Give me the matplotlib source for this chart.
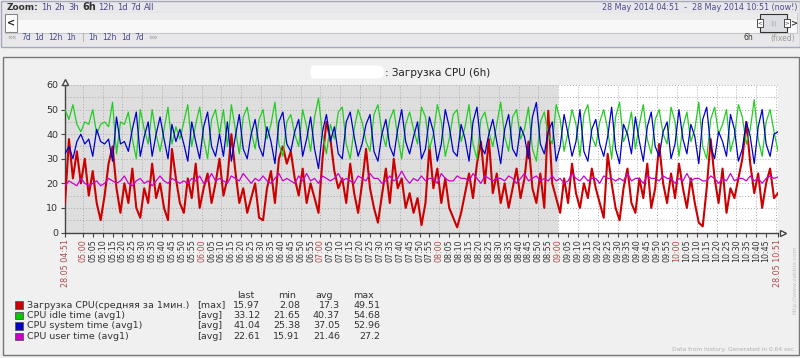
import matplotlib
matplotlib.use('Agg')
import matplotlib.pyplot as plt
import numpy as np
from matplotlib.patches import Rectangle, FancyBboxPatch

# ---------------- data ----------------
step_minutes = 2  # samples every 2 minutes, 04:51 .. 10:51

red_load = [
    12, 38, 22, 33, 20, 30, 15, 25, 12, 5,
    15, 28, 35, 18, 8, 20, 12, 26, 10, 6,
    18, 12, 28, 14, 20, 10, 5, 34, 22, 12,
    8, 22, 14, 28, 10, 18, 24, 12, 20, 30,
    15, 22, 40, 25, 12, 18, 8, 14, 20, 6,
    5, 18, 25, 12, 30, 35, 28, 33, 22, 15,
    26, 12, 20, 14, 8, 30, 45, 38, 25, 18,
    22, 12, 28, 16, 8, 20, 34, 18, 10, 4,
    15, 26, 12, 30, 18, 22, 10, 16, 8, 14,
    3, 12, 35, 18, 26, 12, 22, 10, 6, 2.1,
    8, 16, 24, 14, 28, 37, 20, 38, 16, 24,
    12, 20, 10, 18, 26, 14, 22, 37, 18, 12,
    24, 10, 49.5, 20, 14, 8, 22, 12, 28, 16,
    10, 20, 14, 26, 18, 12, 6, 32, 20, 10,
    5, 18, 26, 12, 8, 22, 14, 28, 10, 18,
    36, 20, 12, 24, 14, 28, 18, 10, 22, 12,
    4, 2.5, 18, 38, 22, 12, 26, 8, 18, 14,
    22, 30, 45, 28, 16, 24, 10, 20, 26, 14,
    16,
]

green_idle = [
    50, 46, 52, 44, 41, 45, 44, 50, 40, 44,
    45, 43, 53, 32, 45, 44, 49, 38, 30, 50,
    42, 36, 50, 40, 33, 42, 51, 36, 43, 38,
    45, 52, 35, 44, 51, 38, 30, 46, 50, 40,
    50, 35, 52, 42, 32, 47,
    51, 41, 34, 46, 50, 38,
    44, 53, 36, 31, 45, 48, 40, 35, 50, 43,
    33, 47, 54.7, 40, 32, 44, 38, 49, 51, 36,
    30, 42, 50, 45, 37, 33, 48, 52, 41, 35,
    46, 50, 39, 30, 44, 49, 42, 36, 51, 47,
    34, 40, 52, 45, 31, 38, 48, 50, 37, 43,
    52, 36, 30, 46, 49, 41, 35, 44, 53, 39,
    33, 47, 50, 38, 42, 51, 34, 29, 45, 49,
    40, 36, 52, 46, 33, 41, 50, 44, 31, 48,
    52, 39, 35, 45, 50, 42, 30, 47, 53, 37,
    41, 49, 34, 44, 52, 38, 32, 46, 50, 40,
    36, 51, 45, 31, 43, 49, 37, 42, 53, 35,
    30, 46, 51, 40, 44, 50, 33, 39, 52, 47,
    36, 42, 54, 38, 31, 45, 50, 41, 33.1,
]

blue_system = [
    32, 35, 30, 37, 40, 36, 38, 31, 42, 37,
    36, 38, 29, 47, 36, 37, 33, 42, 49, 31,
    39, 45, 31, 40, 47, 38, 30, 44, 37, 42,
    36, 29, 45, 37, 30, 43, 49, 35, 31, 40,
    31, 45, 29, 39, 48, 34,
    30, 40, 46, 35, 31, 43,
    37, 28, 45, 49, 36, 33, 41, 46, 31, 38,
    47, 34, 26, 41, 48, 37, 43, 32, 30, 45,
    49, 39, 31, 36, 44, 48, 33, 29, 40, 46,
    35, 31, 42, 50, 37, 32, 39, 45, 30, 34,
    47, 41, 29, 36, 50, 43, 33, 31, 44, 38,
    29, 45, 51, 35, 32, 40, 46, 37, 28, 42,
    48, 34, 31, 43, 39, 30, 47, 52.9, 36, 32,
    41, 45, 29, 35, 48, 40, 31, 37, 50, 33,
    29, 42, 46, 36, 31, 39, 51, 34, 28, 44,
    40, 32, 47, 37, 29, 43, 49, 35, 31, 41,
    45, 30, 36, 50, 38, 32, 44, 39, 28, 46,
    51, 35, 30, 41, 37, 31, 48, 42, 29, 34,
    45, 39, 28, 43, 50, 36, 31, 40, 41,
]

magenta_user = [
    19, 21, 20, 19, 22, 20, 19, 20, 21, 19,
    20, 22, 21, 20, 21, 23, 20, 19, 21, 22,
    20, 21, 19, 21, 23, 21, 20, 22, 21, 20,
    21, 20, 22, 21, 23, 20, 21, 24, 21, 22,
    21, 20, 23, 22, 21, 24, 22, 20, 22, 21,
    23, 21, 20, 22, 24, 21, 22, 21, 20, 23,
    21, 24, 21, 22, 20, 23, 22, 21, 22, 24,
    21, 22, 21, 20, 23, 22, 21, 24, 22, 22,
    20, 21, 23, 21, 22, 25, 22, 20, 22, 21,
    23, 21, 22, 22, 20, 24, 22, 21, 21, 23,
    22, 22, 21, 24, 22, 20, 23, 22, 21, 22,
    22, 21, 23, 22, 20, 22, 24, 21, 22, 23,
    21, 22, 21, 23, 21, 22, 20, 21, 24, 22,
    21, 23, 21, 22, 22, 20, 23, 22, 22, 21,
    22, 21, 24, 21, 22, 22, 20, 23, 22, 22,
    21, 23, 22, 22, 20, 22, 21, 24, 21, 22,
    22, 21, 21, 23, 22, 20, 22, 21, 24, 21,
    22, 22, 21, 23, 21, 22, 20, 22, 23, 22,
    22.6,
]

series_names = ['Загрузка CPU(средняя за 1мин.)', 'CPU idle time (avg1)',
                'CPU system time (avg1)', 'CPU user time (avg1)']
series_funcs = ['[max]', '[avg]', '[avg]', '[avg]']
stat_last = ['15.97', '33.12', '41.04', '22.61']
stat_min = ['2.08', '21.65', '25.38', '15.91']
stat_avg = ['17.3', '40.37', '37.05', '21.46']
stat_max = ['49.51', '54.68', '52.96', '27.2']

start_label = '28.05 04:51'
end_label = '28.05 10:51'
first_full_tick = 9            # minutes from 04:51 to 05:00
work_start = 249               # minutes from 04:51 to 09:00
total_minutes = 360
clock_labels = [f'{h:02d}:{m:02d}' for h in range(5, 11) for m in range(0, 60, 5)][:-2]

# ---------------- style ----------------
col_red = '#CC0000'
col_green = '#22CC22'
col_blue = '#0000CC'
col_magenta = '#CC00CC'
box_colors = ['#C80000', '#00C800', '#0000C8', '#C800C8']
label_red = '#b04a4a'
txt = '#333333'
link = '#4a4a8c'

fig = plt.figure(figsize=(8, 3.58), dpi=100, facecolor='#f0f0f0')

# overlay in pixel coordinates
ov = fig.add_axes([0, 0, 1, 1], zorder=0)
ov.set_xlim(0, 800)
ov.set_ylim(358, 0)
ov.axis('off')

# navigation bar
ov.add_patch(Rectangle((0.5, 0.5), 799, 46, fc='#e8e8ea', ec='#a4a8b8', lw=1))
ov.add_patch(Rectangle((5, 13), 792, 20, fc='#f8f8f8', ec='#c8c8c8', lw=0.8))
ov.add_patch(Rectangle((5, 13), 792, 7, fc='#ebebeb', ec='none'))
ov.add_patch(Rectangle((5, 14), 12, 18, fc='white', ec='#888888', lw=0.8))
ov.text(11, 23.5, '<', fontsize=7, fontweight='bold', ha='center', va='center', color='#222')
ov.add_patch(Rectangle((760, 14), 27, 18, fc='#dcdce4', ec='#333333', lw=0.8))
ov.add_patch(Rectangle((757, 19), 6, 8, fc='white', ec='#333', lw=0.6))
ov.add_patch(Rectangle((784, 19), 6, 8, fc='white', ec='#333', lw=0.6))
ov.text(760, 23, '<', fontsize=4, ha='center', va='center', color='#333')
ov.text(787, 23, '>', fontsize=4, ha='center', va='center', color='#333')
ov.text(773.5, 23, '|||', fontsize=4.5, ha='center', va='center', color='#aaa')
ov.text(794, 23.5, '>', fontsize=6, fontweight='bold', ha='center', va='center', color='#333')

ov.text(7, 7, 'Zoom:', fontsize=6.5, fontweight='bold', color='#333', va='center')
for s, x in [('1h', 41), ('2h', 54), ('3h', 68), ('12h', 98), ('1d', 117), ('7d', 130), ('All', 144)]:
    ov.text(x, 7, s, fontsize=6, color=link, va='center')
ov.text(82, 7, '6h', fontsize=7, fontweight='bold', color='#333', va='center')
ov.text(7, 38, '««', fontsize=5.5, color='#999', va='center')
for s, x in [('7d', 21), ('1d', 34), ('12h', 48), ('1h', 66), ('1h', 88), ('12h', 102), ('1d', 121), ('7d', 134)]:
    ov.text(x, 38, s, fontsize=5.5, color=link, va='center')
ov.text(82, 38, '|', fontsize=5.5, color='#999', va='center')
ov.text(148, 38, '»»', fontsize=5.5, color='#999', va='center')
ov.text(797, 7, '28 May 2014 04:51  -  28 May 2014 10:51 (now!)', fontsize=5.8,
        color=link, ha='right', va='center')
ov.text(743, 38, '6h', fontsize=5.5, color='#333', va='center')
ov.text(795, 38, '(fixed)', fontsize=5.5, color='#999', ha='right', va='center')

# graph panel
ov.add_patch(Rectangle((3, 57), 796, 298, fc='#f0f0f0', ec='#777777', lw=1))
ov.add_patch(FancyBboxPatch((312, 67), 70, 10, boxstyle='round,pad=1.5,rounding_size=5',
                            fc='white', ec='none'))
ov.text(385, 72.5, ': Загрузка CPU (6h)', fontsize=7.5, color='#222', va='center')

# legend
ov.text(246, 295, 'last', fontsize=6.8, color=txt, ha='center', va='center')
ov.text(287, 295, 'min', fontsize=6.8, color=txt, ha='center', va='center')
ov.text(324, 295, 'avg', fontsize=6.8, color=txt, ha='center', va='center')
ov.text(364, 295, 'max', fontsize=6.8, color=txt, ha='center', va='center')
row_y = [305, 315.5, 326, 336.5]
for i in range(4):
    y = row_y[i]
    ov.add_patch(Rectangle((15, y - 4), 7.5, 7.5, fc=box_colors[i], ec='#555', lw=0.6))
    ov.text(27, y, series_names[i], fontsize=6.8, color=txt, va='center')
    ov.text(197, y, series_funcs[i], fontsize=6.8, color=txt, va='center')
    ov.text(260, y, stat_last[i], fontsize=6.8, color=txt, ha='right', va='center')
    ov.text(300, y, stat_min[i], fontsize=6.8, color=txt, ha='right', va='center')
    ov.text(340, y, stat_avg[i], fontsize=6.8, color=txt, ha='right', va='center')
    ov.text(380, y, stat_max[i], fontsize=6.8, color=txt, ha='right', va='center')

ov.text(796, 350, 'Data from history. Generated in 0.64 sec.', fontsize=4.3,
        color='#b0b0b0', ha='right', va='center')
ov.text(795, 280, 'http://www.zabbix.com', fontsize=4.3, color='#c0c0c0',
        rotation=90, ha='center', va='center')

# ---------------- plot ----------------
L, R, T, B = 65, 778, 85, 232.5
ax = fig.add_axes([L / 800, (358 - B) / 358, (R - L) / 800, (B - T) / 358], zorder=2)
ax.set_facecolor('white')
ax.set_xlim(0, total_minutes)
ax.set_ylim(0, 60)
ax.axvspan(0, work_start, color='#dedede', lw=0, zorder=0)

grid_kw = dict(color='#aaaaaa', lw=0.7, linestyle=(0, (1, 2)), zorder=1)
for v in range(5, 61, 5):
    ax.axhline(v, **grid_kw)
for m in range(first_full_tick, total_minutes, 10):
    ax.axvline(m, **grid_kw)

t = np.arange(len(red_load)) * step_minutes
ax.plot(t, red_load, color=col_red, lw=1.5, zorder=3)
ax.plot(t, green_idle, color=col_green, lw=0.9, zorder=4)
ax.plot(t, blue_system, color=col_blue, lw=0.9, zorder=5)
ax.plot(t, magenta_user, color=col_magenta, lw=0.9, zorder=6)

for s in ['top', 'right']:
    ax.spines[s].set_visible(False)
for s in ['left', 'bottom']:
    ax.spines[s].set_color('#444444')
    ax.spines[s].set_linewidth(1)
ax.plot([0], [61.3], marker='^', ms=4, mfc='white', mec='#444', clip_on=False, zorder=7)
ax.plot([total_minutes + 2.5], [0], marker='>', ms=4, mfc='white', mec='#444', clip_on=False, zorder=7)

ax.set_yticks(range(0, 61, 10))
ax.tick_params(axis='y', labelsize=6.8, labelcolor=txt, length=3, color='#444', pad=2)

xt = [0] + [first_full_tick + 5 * i for i in range(len(clock_labels))] + [total_minutes]
xl = [start_label] + clock_labels + [end_label]
ax.set_xticks(xt)
ax.set_xticklabels(xl, rotation=90, fontsize=5.8)
ax.tick_params(axis='x', length=3, color='#444', pad=2)
for lab in ax.get_xticklabels():
    s = lab.get_text()
    if s.endswith(':00') or s.startswith('28.05'):
        lab.set_color(label_red)
    else:
        lab.set_color(txt)

fig.savefig('out.png', dpi=100, facecolor=fig.get_facecolor())
